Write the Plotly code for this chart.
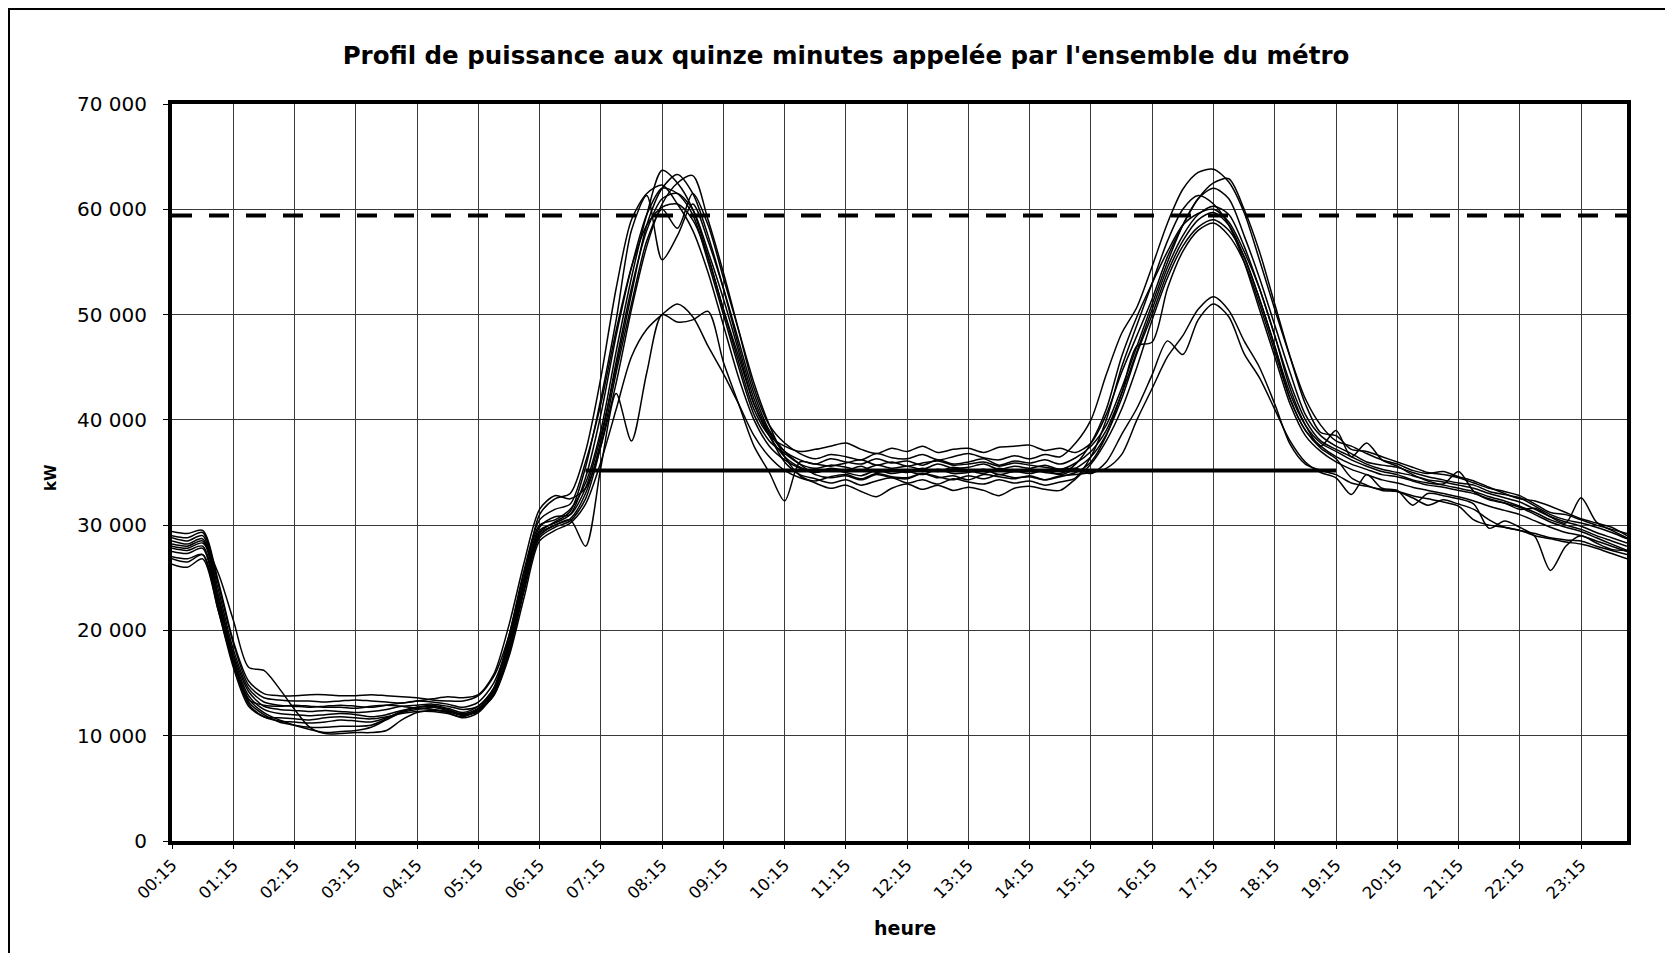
import plotly.graph_objects as go

# Abscisse : pas de quinze minutes, de 00:15 a 24:00
heures = [f"{(15 * (i + 1)) // 60:02d}:{(15 * (i + 1)) % 60:02d}" for i in range(96)]
etiquettes_x = heures[::4]  # 00:15, 01:15, ... 23:15

valeurs_y = [0, 10000, 20000, 30000, 40000, 50000, 60000, 70000]
etiquettes_y = ["0", "10 000", "20 000", "30 000", "40 000", "50 000", "60 000", "70 000"]

# Puissance appelee (kW), une liste par journee
jour_1 = [29400, 29200, 29500, 24800, 19000, 15200, 14000, 13800,
          13800, 13900, 13900, 13800, 13800, 13900, 13800, 13700,
          13600, 13400, 13300, 13300, 13800, 15600, 19500, 25500,
          30000, 30500, 31500, 34000, 39000, 46500, 53500, 59500,
          63700, 62500, 60000, 55500, 50500, 45500, 41000, 38500,
          37500, 37000, 37200, 37500, 37800, 37200, 36800, 37300,
          37000, 37500, 36900, 37200, 37300, 36900, 37400, 37500,
          37600, 37100, 37300, 36900, 37800, 40500, 44500, 48000,
          51500, 55500, 58500, 61000, 62500, 62900, 60000, 56000,
          51000, 46000, 41500, 38800, 38500, 37200, 37000, 36500,
          36000, 35500, 35000, 34800, 34500, 34000, 33500, 33200,
          32800, 32000, 31200, 31000, 30500, 30000, 29600, 29200]

jour_2 = [29000, 28800, 29300, 24500, 18800, 14800, 13600, 13400,
          13300, 13300, 13200, 13300, 13400, 13300, 13200, 13100,
          13300, 13500, 13700, 13600, 13900, 15800, 20500, 26500,
          31500, 32800, 32500, 33500, 37500, 43500, 50500, 56500,
          60500, 62500, 63200, 59000, 54000, 48500, 43000, 39500,
          37800, 36800, 36300, 36700, 36500, 36200, 36800, 36400,
          36300, 36700, 36200, 36500, 36800, 36400, 36200, 36600,
          36300, 36700, 36500, 37800, 40000, 44300, 48200, 50700,
          54600, 58700, 61900, 63500, 63800, 62600, 59700, 55200,
          50500, 46000, 42000, 39500, 38000, 37500, 36800, 36200,
          35800, 35200, 34900, 35100, 34600, 34200, 33600, 33000,
          32500, 32300, 31800, 31200, 30600, 30200, 29800, 29000]

jour_3 = [28800, 28500, 29000, 24000, 18200, 14500, 13200, 12900,
          12800, 12700, 12800, 12900, 12800, 12700, 12900, 13100,
          13300, 13200, 13000, 12700, 13200, 15000, 19000, 25000,
          29800, 30800, 31000, 33500, 38500, 45000, 52000, 58500,
          62000, 63300, 61500, 57500, 52500, 47000, 42000, 38800,
          37000, 36200, 35800, 36300, 36000, 35800, 36300, 35900,
          36100, 35700, 36200, 35800, 36000, 36300, 35700, 36100,
          35900, 36200, 35800, 36400, 37500, 39500, 43000, 47000,
          51000, 55000, 58500, 61000, 62000, 61000, 57500, 53500,
          49000, 44500, 40500, 38500, 37500, 36800, 36000, 35700,
          35500, 35000, 34600, 34300, 34000, 33800, 33200, 32900,
          32600, 31800, 31000, 30500, 30200, 29800, 29300, 28700]

jour_4 = [28500, 28200, 28700, 23500, 17800, 14200, 12800, 12500,
          12400, 12300, 12400, 12300, 12200, 12300, 12500, 12800,
          12900, 13000, 12800, 12500, 12800, 14500, 18500, 24500,
          29500, 30200, 31000, 34500, 40500, 48000, 54500, 59500,
          62000, 61500, 59500, 55000, 50000, 45000, 40500, 38000,
          36800, 35800, 35400, 35700, 35500, 35200, 35700, 35400,
          35600, 35300, 35800, 35400, 35500, 35800, 35300, 35600,
          35400, 35700, 35300, 35900, 37000, 39000, 42500, 46500,
          50500, 54500, 57500, 59500, 60300, 59500, 56500, 52500,
          48000, 43500, 40000, 38000, 37200, 36500, 35800, 35300,
          35000, 34700, 34300, 34100, 33800, 33500, 33000, 32600,
          32200, 31500, 30800, 30300, 29900, 29300, 28800, 28300]

jour_5 = [28200, 28000, 28500, 23200, 17500, 13800, 12500, 12100,
          12000, 11900, 12000, 12100, 12000, 11800, 12000, 12400,
          12600, 12500, 12200, 11700, 12200, 14000, 18000, 24000,
          29000, 30000, 30600, 33000, 38000, 45500, 52500, 58000,
          61000, 61500, 60000, 56000, 51500, 46500, 41500, 38500,
          36500, 35500, 35000, 35300, 35000, 34700, 35200, 34900,
          35100, 34800, 35300, 34900, 35000, 35300, 34800, 35100,
          34900, 35200, 34800, 35400, 36500, 38600, 42000, 46300,
          50000, 54000, 57000, 59000, 59700, 58500, 55500, 51500,
          47000, 42500, 39500, 37800, 37000, 36200, 35600, 35100,
          34800, 34300, 34000, 33800, 33500, 33200, 32700, 32300,
          31800, 31200, 30500, 30000, 29600, 29000, 28500, 28000]

jour_6 = [27800, 27600, 28000, 22800, 17200, 13500, 12200, 11500,
          11000, 10600, 10300, 10400, 10500, 10800, 11500, 12200,
          12500, 12700, 12400, 12000, 12600, 14300, 18800, 24800,
          29300, 30300, 31300, 35500, 42000, 49500, 58000, 61300,
          55200, 57500, 60500, 57000, 52500, 47500, 42500, 39000,
          37000, 35800, 34800, 34500, 34700, 34300, 34800, 34500,
          34400, 34900, 34500, 34700, 34300, 34800, 34600, 34400,
          34700, 34300, 34600, 35000, 36000, 38500, 42500, 47000,
          47400, 52500, 56000, 58000, 58700, 57500, 55000, 51000,
          46500, 42000, 39000, 37500, 36500, 35800, 35300, 34800,
          34600, 34200, 33800, 33600, 33300, 33000, 32500, 32100,
          31700, 31000, 30300, 29800, 29400, 28800, 28200, 27600]

jour_7 = [27500, 27300, 27800, 22500, 17000, 13200, 12000, 11300,
          11000, 10800, 10800, 10900, 10900, 11000, 11600, 12300,
          12700, 12900, 12600, 12200, 12800, 14500, 19500, 25800,
          30500, 31500, 32000, 36000, 41500, 48500, 54500, 58500,
          60200, 60500, 59000, 55500, 50500, 46000, 41500, 38500,
          36000, 34800, 34400, 34000, 34300, 33800, 34200, 34500,
          34000, 34300, 33900, 34400, 34100, 33900, 34300, 34000,
          34200, 33800, 34100, 34500, 36500, 40000, 45000, 49000,
          53000, 57000, 60000, 61300, 60500, 58500, 55000, 50500,
          46000, 41500, 38500, 37000, 36000, 35300, 34800, 34300,
          34000, 33600, 33300, 33000, 32700, 32300, 31800, 31400,
          31000, 30400, 29800, 29300, 29000, 28500, 28000, 27500]

jour_8 = [28000, 27800, 28300, 25500, 21000, 16500, 16200, 14500,
          12500, 10800, 10200, 10200, 10300, 10300, 10500, 11500,
          12200, 12400, 12300, 11900, 12400, 13800, 17800, 23800,
          28800, 29800, 30400, 32500, 37500, 44500, 51000, 57000,
          60000, 58200, 61500, 58500, 53500, 48500, 43500, 39500,
          36500, 34700, 34000, 33500, 33800, 33200, 32700, 33500,
          33900, 33400, 33800, 33300, 33600, 33300, 32800, 33500,
          33700, 33400, 33300, 34400, 35800, 38000, 41000, 45000,
          49500, 53500, 56500, 58300, 59000, 58000, 55500, 51500,
          47000, 42000, 39000, 37300, 36300, 34500, 33800, 33300,
          33200, 32800, 32500, 32200, 31800, 30500, 30000, 29800,
          29500, 29000, 28700, 28400, 28200, 27800, 27300, 26800]

jour_9 = [27000, 26800, 27200, 22000, 16800, 13000, 11800, 11400,
          11300, 11200, 11300, 11500, 11400, 11300, 11700, 12300,
          12700, 12800, 12500, 12000, 12300, 14200, 19000, 25000,
          31000, 32500, 33000, 37000, 44000, 52500, 59000, 61500,
          62300, 60500, 58000, 54000, 49000, 44000, 40000, 37500,
          36200, 35400, 35000, 35400, 35200, 35600, 35000, 35300,
          35000, 35400, 35100, 35500, 35200, 34900, 35400, 35100,
          35300, 35000, 34900, 35800, 37800, 41000, 46000, 49800,
          53000, 56000, 58500, 59600, 60000, 58800, 56000, 52500,
          48000, 43000, 39500, 37500, 39000, 36500, 37800, 36200,
          35600, 34800, 34200, 33900, 35100, 33200, 32400, 32100,
          31500, 31600, 30800, 30200, 32600, 30300, 29500, 28800]

ferie_1 = [26300, 26000, 26800, 22000, 16500, 12800, 11800, 11700,
           11600, 11500, 11700, 11800, 11700, 11600, 11800, 12100,
           12300, 12300, 12100, 11800, 12500, 13800, 17500, 23200,
           28500, 29500, 30200, 32000, 36000, 41000, 46000, 48600,
           50000, 51000, 49800, 47000, 44400, 41500, 38500, 36500,
           35200, 34500, 34200, 34600, 34800, 34400, 34900, 34600,
           34500, 34900, 34600, 34300, 34700, 34400, 34800, 34500,
           34600, 34300, 34700, 34800, 35000, 35400, 36700, 40000,
           43000, 46000, 48000, 50500, 51700, 50400, 47500, 45000,
           41500, 37700, 35800, 35200, 34800, 34000, 33700, 33400,
           33200, 32600, 31900, 32400, 32000, 31500, 30500, 29800,
           29500, 29200, 28800, 28600, 28500, 28000, 27600, 27200]

ferie_2 = [26800, 26500, 27200, 22300, 16900, 13400, 12900, 12800,
           12900, 12800, 12700, 12700, 12600, 12800, 12900, 12800,
           12600, 12500, 12300, 12100, 12600, 14200, 18200, 24000,
           29200, 30000, 30500, 28000, 35500, 42500, 38000, 44500,
           50000, 49300, 49500, 50300, 45500, 41500, 37500, 35000,
           32300, 36000, 35800, 35600, 35900, 36200, 35700, 36000,
           35600, 35900, 36100, 35700, 35800, 36000, 35600, 35900,
           35700, 35500, 35300, 35400, 34900, 36000, 38600, 41100,
           44300, 47500, 46200, 49500, 51000, 49800, 46300, 44000,
           41000, 38000, 36000, 35000, 34500, 32900, 34800, 33500,
           33300, 31900, 33000, 32800, 32500, 32000, 29700, 30400,
           29800, 28900, 25700, 28000, 29000, 28300, 27700, 27600]

journees = [jour_1, jour_2, jour_3, jour_4, jour_5, jour_6,
            jour_7, jour_8, jour_9, ferie_1, ferie_2]

# Lignes de reference
seuil_haut = 59400
seuil_bas = 35200
debut_seuil_bas, fin_seuil_bas = "07:00", "19:15"

fig = go.Figure()

for serie in journees:
    fig.add_trace(go.Scatter(
        x=heures, y=serie, mode="lines",
        line=dict(color="black", width=1.5, shape="spline", smoothing=0.8),
        hoverinfo="skip"))

# pointille horizontal (puissance maximale)
fig.add_trace(go.Scatter(
    x=[heures[0], heures[-1]], y=[seuil_haut, seuil_haut], mode="lines",
    line=dict(color="black", width=4, dash="20px,17px")))

# trait plein (puissance de base)
fig.add_trace(go.Scatter(
    x=[debut_seuil_bas, fin_seuil_bas], y=[seuil_bas, seuil_bas], mode="lines",
    line=dict(color="black", width=4)))

# la page ajoute 8 px de marge autour du graphique
fig.update_layout(
    width=1657, height=945,
    margin=dict(l=164, r=38, t=96, b=112),
    paper_bgcolor="white", plot_bgcolor="white",
    showlegend=False,
    font=dict(family="DejaVu Sans", color="black"),
    title=dict(text="<b>Profil de puissance aux quinze minutes appelée par l'ensemble du métro</b>",
               x=(846 - 8) / 1657, y=1 - (55 - 8) / 945, xanchor="center", yanchor="middle",
               font=dict(size=24.5, color="black")),
)

fig.update_xaxes(
    type="category", categoryorder="array", categoryarray=heures,
    range=[0, len(heures) - 1],
    tickmode="array", tickvals=etiquettes_x, ticktext=etiquettes_x,
    tickangle=-45, tickfont=dict(size=16.5),
    showgrid=True, gridcolor="#3a3a3a", gridwidth=1,
    showline=True, mirror=True, linewidth=4, linecolor="black",
    ticks="outside", ticklen=4, tickcolor="black", zeroline=False)

fig.update_yaxes(
    range=[0, 70000],
    tickmode="array", tickvals=valeurs_y, ticktext=etiquettes_y,
    tickfont=dict(size=20), ticklabelstandoff=12,
    showgrid=True, gridcolor="#3a3a3a", gridwidth=1,
    showline=True, mirror=True, linewidth=4, linecolor="black",
    ticks="outside", ticklen=5, tickcolor="black", zeroline=False)

fig.add_annotation(text="<b>heure</b>", xref="paper", yref="paper",
                   x=(905 - 172) / 1455, y=-87 / 737, showarrow=False,
                   font=dict(size=19), xanchor="center", yanchor="middle")
fig.add_annotation(text="<b>kW</b>", xref="paper", yref="paper",
                   x=(51 - 172) / 1455, y=(841 - 478) / 737, showarrow=False,
                   font=dict(size=15), textangle=-90, xanchor="center", yanchor="middle")

# cadre du graphique numerise
fig.add_shape(type="rect", xref="paper", yref="paper",
              x0=(8.5 - 172) / 1455, x1=(1720 - 172) / 1455,
              y0=(841 - 1000) / 737, y1=(841 - 8.5) / 737,
              line=dict(color="black", width=3), fillcolor="rgba(0,0,0,0)", layer="below")

fig.write_html("out.html")
